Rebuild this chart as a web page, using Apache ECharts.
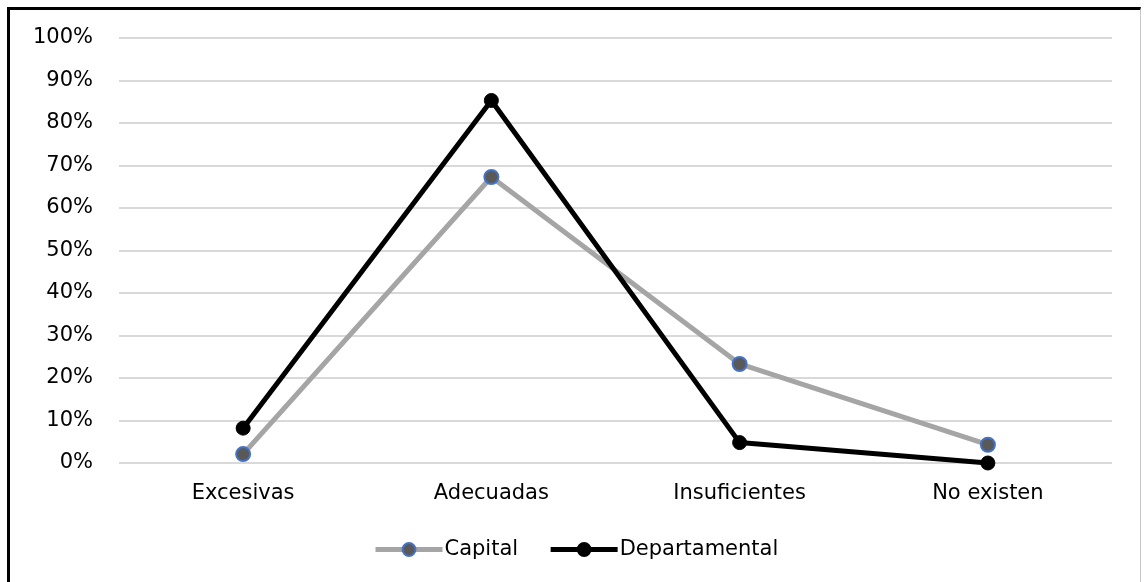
<!DOCTYPE html>
<html>
<head>
<meta charset="utf-8">
<script src="https://cdn.jsdelivr.net/npm/echarts@6/dist/echarts.min.js"></script>
<style>
  html, body { margin: 0; padding: 0; background: #fff; }
  #frame {
    position: absolute; left: 7px; top: 7px; width: 1134px; height: 580px;
    border-top: 3px solid #000; border-left: 3px solid #000; border-right: 1px solid #c8c8c8;
    box-sizing: border-box;
  }
  #chart { position: absolute; left: 0; top: 0; width: 1145px; height: 582px; }
</style>
</head>
<body>
<div id="frame"></div>
<div id="chart"></div>
<script>
// Categories and percentage shares per group
const categories = ['Excesivas', 'Adecuadas', 'Insuficientes', 'No existen'];
const capital = [2.1, 67.3, 23.3, 4.3];
const departamental = [8.2, 85.3, 4.8, 0];
const seriesNames = ['Capital', 'Departamental'];

const FONT = 'DejaVu Sans';
const FS = 21;
const chart = echarts.init(document.getElementById('chart'), null, { renderer: 'canvas' });

chart.setOption({
  animation: false,
  textStyle: { fontFamily: FONT },
  grid: { left: 119, right: 33, top: 38, bottom: 119, containLabel: false },
  xAxis: {
    type: 'category',
    data: categories,
    boundaryGap: true,
    axisLine: { show: false },
    axisTick: { show: false },
    axisLabel: { color: '#000', fontSize: FS, fontFamily: FONT, margin: 20 }
  },
  yAxis: {
    type: 'value',
    min: 0, max: 100, interval: 10,
    axisLine: { show: false },
    axisTick: { show: false },
    splitLine: { lineStyle: { color: '#d9d9d9', width: 2 } },
    axisLabel: { color: '#000', fontSize: FS, fontFamily: FONT, margin: 26, formatter: '{value}%' }
  },
  legend: {
    top: 534,
    left: 368,
    itemWidth: 67,
    itemHeight: 16,
    itemGap: 30,
    lineStyle: { width: 5 },
    textStyle: { color: '#000', fontSize: FS, fontFamily: FONT, padding: [0, 0, 0, -3] },
    data: seriesNames
  },
  series: [
    {
      name: seriesNames[0],
      type: 'line',
      data: capital,
      symbol: 'circle',
      symbolSize: 14,
      lineStyle: { color: '#a5a5a5', width: 5 },
      itemStyle: { color: '#595959', borderColor: '#4472c4', borderWidth: 2 },
      z: 2
    },
    {
      name: seriesNames[1],
      type: 'line',
      data: departamental,
      symbol: 'circle',
      symbolSize: 14,
      lineStyle: { color: '#000', width: 5 },
      itemStyle: { color: '#000', borderColor: '#000', borderWidth: 1 },
      z: 3
    }
  ]
});
</script>
</body>
</html>
